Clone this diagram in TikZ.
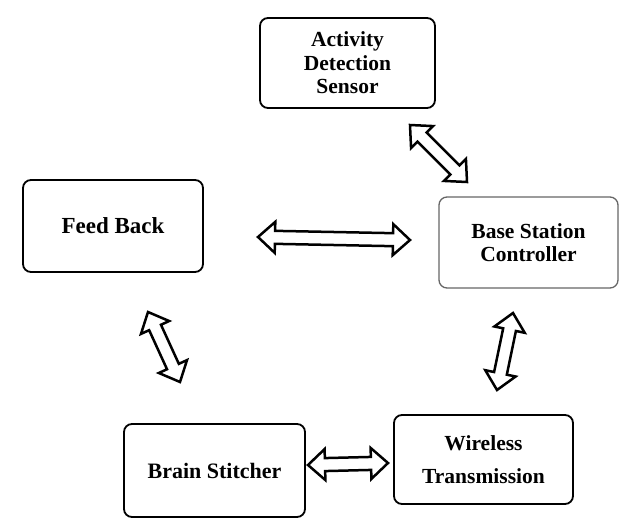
\documentclass[tikz,border=0pt]{standalone}
\usepackage{fontspec}
\setmainfont{Liberation Serif}
\usetikzlibrary{calc}

\tikzset{
  block/.style={draw=black, line width=1.8pt, rounded corners=8pt, align=center,
    font=\fontsize{21.5}{23.5}\selectfont\bfseries, inner sep=0pt},
  blockarrow/.style={draw=black, line width=2.5pt, fill=white, line join=miter},
}
% hollow double arrow between two named points
\newcommand{\dblarrow}[2]{%
  \draw[blockarrow] (#1)
    -- ($(#1)!17pt!(#2)!15.5pt!90:(#2)$) -- ($(#1)!17pt!(#2)!6.5pt!90:(#2)$)
    -- ($(#2)!17pt!(#1)!6.5pt!-90:(#1)$) -- ($(#2)!17pt!(#1)!15.5pt!-90:(#1)$)
    -- (#2)
    -- ($(#2)!17pt!(#1)!15.5pt!90:(#1)$) -- ($(#2)!17pt!(#1)!6.5pt!90:(#1)$)
    -- ($(#1)!17pt!(#2)!6.5pt!-90:(#2)$) -- ($(#1)!17pt!(#2)!15.5pt!-90:(#2)$)
    -- cycle;}

\begin{document}
\begin{tikzpicture}[x=1pt,y=-1pt]
  \useasboundingbox (0,0) rectangle (629,528);

  \node[block, minimum width=175pt, minimum height=90pt] (ads) at (347.5,63) {Activity\\Detection\\Sensor};
  \node[block, minimum width=180pt, minimum height=92pt, font=\fontsize{23}{25}\selectfont\bfseries] (fb) at (113,226) {Feed Back};
  \node[block, draw=black!60, line width=1.3pt, minimum width=179pt, minimum height=91pt] (bsc) at (528.5,242.5) {Base Station\\Controller};
  \node[block, minimum width=181pt, minimum height=93pt, font=\fontsize{22}{24}\selectfont\bfseries] (bs) at (214.5,470.5) {Brain Stitcher};
  \node[block, minimum width=179pt, minimum height=89pt] (wt) at (483.5,459.5) {Wireless\\[9pt]Transmission};

  % arrow ends
  \coordinate (ads-s) at (410,125);
  \coordinate (bsc-n) at (467,182);
  \coordinate (fb-e)  at (258,237);
  \coordinate (bsc-w) at (410,240);
  \coordinate (fb-s)  at (148,312);
  \coordinate (bs-n)  at (180,382);
  \coordinate (bsc-s) at (513,313);
  \coordinate (wt-n)  at (497,390);
  \coordinate (bs-e)  at (308,465);
  \coordinate (wt-w)  at (388,463);

  \dblarrow{ads-s}{bsc-n}
  \dblarrow{fb-e}{bsc-w}
  \dblarrow{fb-s}{bs-n}
  \dblarrow{bsc-s}{wt-n}
  \dblarrow{bs-e}{wt-w}
\end{tikzpicture}
\end{document}
